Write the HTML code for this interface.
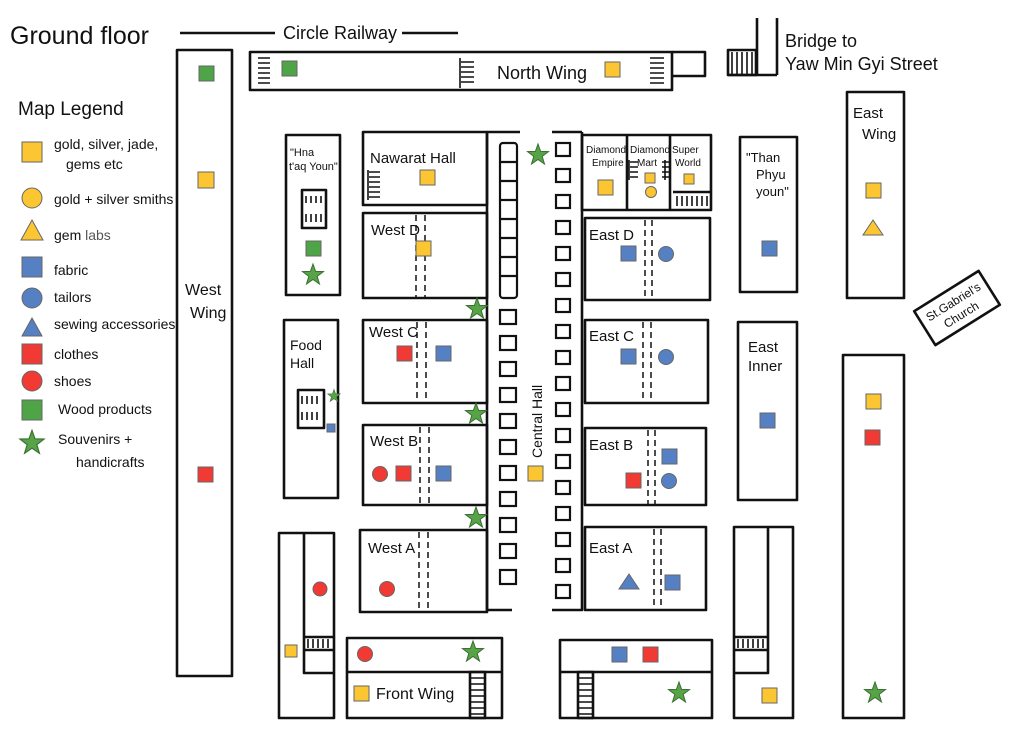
<!DOCTYPE html>
<html><head><meta charset="utf-8"><style>
html,body{margin:0;padding:0;background:#fff;}
svg{display:block;}
text{font-family:"Liberation Sans",sans-serif;fill:#111;}
</style></head><body>
<svg width="1024" height="739" viewBox="0 0 1024 739" xmlns="http://www.w3.org/2000/svg">
<defs>
<polygon id="st" points="0,-11 2.6,-3.6 10.5,-3.4 4.2,1.4 6.5,9 0,4.5 -6.5,9 -4.2,1.4 -10.5,-3.4 -2.6,-3.6" fill="#56a447" stroke="#3a6e30" stroke-width="1"/>
</defs>
<g fill="none" stroke="#111" stroke-width="2.6" stroke-linejoin="round">
<line x1="180" y1="33" x2="275" y2="33"/><line x1="402" y1="33" x2="458" y2="33"/>
<rect x="177" y="50" width="55" height="626"/>
<rect x="250" y="52" width="422" height="38"/>
<path d="M672 52 H705 V76 H672"/>
<path d="M757 18 V75 M777 18 V75 M728 75 H777"/>
<rect x="728" y="50" width="28" height="25"/>
<rect x="847" y="92" width="57" height="206"/>
<rect x="-38" y="-20" width="76" height="40" transform="translate(957,308) rotate(-32)"/>
<rect x="843" y="355" width="61" height="363"/>
<rect x="286" y="135" width="54" height="160"/>
<rect x="302" y="190" width="24" height="38"/>
<rect x="284" y="320" width="54" height="178"/>
<rect x="298" y="390" width="26" height="38"/>
<rect x="279" y="533" width="55" height="185"/>
<path d="M304 533 V673 H334 M304 637 H334 M304 650 H334"/>
<rect x="363" y="132" width="124" height="73"/>
<path d="M487 132 H520 M552 132 H582"/>
<rect x="363" y="213" width="124" height="85"/>
<rect x="363" y="320" width="124" height="83"/>
<rect x="363" y="425" width="124" height="80"/>
<rect x="360" y="530" width="127" height="82"/>
<path d="M487 132 V610 H512"/>
<path d="M582 132 V610 H552"/>
<rect x="582" y="135" width="129" height="75"/>
<path d="M627 135 V210 M670 135 V210 M673 192 H711"/>
<rect x="585" y="218" width="125" height="82"/>
<rect x="585" y="320" width="123" height="83"/>
<rect x="585" y="428" width="121" height="77"/>
<rect x="585" y="527" width="121" height="83"/>
<rect x="740" y="137" width="57" height="155"/>
<rect x="738" y="322" width="59" height="178"/>
<rect x="734" y="527" width="59" height="191"/>
<path d="M768 527 V673 H734 M734 637 H768 M734 650 H768"/>
<rect x="347" y="638" width="155" height="80"/>
<path d="M347 672 H502"/>
<rect x="470" y="672" width="15" height="46"/>
<rect x="560" y="640" width="152" height="78"/>
<path d="M560 672 H712"/>
<rect x="578" y="672" width="15" height="46"/>
</g>
<g fill="none" stroke="#111" stroke-width="2.2">
<rect x="500" y="143" width="17" height="155" rx="3"/>
<path d="M500 162H517M500 181H517M500 200H517M500 219H517M500 238H517M500 257H517M500 276H517"/>
<rect x="500" y="310" width="16" height="14"/><rect x="500" y="336" width="16" height="14"/><rect x="500" y="362" width="16" height="14"/><rect x="500" y="388" width="16" height="14"/><rect x="500" y="414" width="16" height="14"/><rect x="500" y="440" width="16" height="14"/><rect x="500" y="466" width="16" height="14"/><rect x="500" y="492" width="16" height="14"/><rect x="500" y="518" width="16" height="14"/><rect x="500" y="544" width="16" height="14"/><rect x="500" y="570" width="16" height="14"/>
<rect x="556" y="143" width="14" height="13"/><rect x="556" y="169" width="14" height="13"/><rect x="556" y="195" width="14" height="13"/><rect x="556" y="221" width="14" height="13"/><rect x="556" y="247" width="14" height="13"/><rect x="556" y="273" width="14" height="13"/><rect x="556" y="299" width="14" height="13"/><rect x="556" y="325" width="14" height="13"/><rect x="556" y="351" width="14" height="13"/><rect x="556" y="377" width="14" height="13"/><rect x="556" y="403" width="14" height="13"/><rect x="556" y="429" width="14" height="13"/><rect x="556" y="455" width="14" height="13"/><rect x="556" y="481" width="14" height="13"/><rect x="556" y="507" width="14" height="13"/><rect x="556" y="533" width="14" height="13"/><rect x="556" y="559" width="14" height="13"/><rect x="556" y="585" width="14" height="13"/>
</g>
<g stroke="#111" stroke-width="1.6">
<path d="M258 58H270M258 63H270M258 68H270M258 73H270M258 78H270M258 83H270"/>
<path d="M460 58V88M461 62H474M461 67H474M461 72H474M461 77H474M461 82H474"/>
<path d="M650 58H664M650 63H664M650 68H664M650 73H664M650 78H664M650 83H664"/>
<path d="M732 52V74M737 52V74M742 52V74M747 52V74M752 52V74"/>
<path d="M368 170V200M369 172H380M369 177H380M369 182H380M369 187H380M369 192H380M369 197H380"/>
<path d="M306 196V203M311 196V203M316 196V203M321 196V203M306 214V222M311 214V222M316 214V222M321 214V222"/>
<path d="M302 396V404M307 396V404M312 396V404M317 396V404M302 412V420M307 412V420M312 412V420M317 412V420"/>
<path d="M308 639V648M313 639V648M318 639V648M323 639V648M328 639V648"/>
<path d="M738 639V648M743 639V648M748 639V648M753 639V648M758 639V648M763 639V648"/>
<path d="M471 678H484M471 684H484M471 690H484M471 696H484M471 702H484M471 708H484M471 714H484"/>
<path d="M579 678H592M579 684H592M579 690H592M579 696H592M579 702H592M579 708H592M579 714H592"/>
<path d="M677 196V206M682 196V206M687 196V206M692 196V206M697 196V206M702 196V206M707 196V206"/>
<path d="M629 160V180M630 162H638M630 167H638M630 172H638M630 177H638"/>
<path d="M665 160V180M662 162H669M662 167H669M662 172H669M662 177H669"/>
</g>
<g stroke="#111" stroke-width="1.5" stroke-dasharray="6,4">
<path d="M416 215V297M425 215V297M417 322V402M426 322V402M420 427V504M429 427V504M419 532V611M428 532V611"/>
<path d="M645 220V299M652 220V299M643 322V402M651 322V402M648 430V504M655 430V504M654 529V609M661 529V609"/>
</g>
<g stroke="#666" stroke-width="1">
<g fill="#fcc632">
<rect x="22" y="142" width="20" height="20"/>
<rect x="198" y="172" width="16" height="16"/>
<rect x="605" y="62" width="15" height="15"/>
<rect x="420" y="170" width="15" height="15"/>
<rect x="416" y="241" width="15" height="15"/>
<rect x="598" y="180" width="15" height="15"/>
<rect x="645" y="173" width="10" height="10"/>
<rect x="684" y="174" width="10" height="10"/>
<rect x="866" y="183" width="15" height="15"/>
<rect x="866" y="394" width="15" height="15"/>
<rect x="528" y="466" width="15" height="15"/>
<rect x="285" y="645" width="12" height="12"/>
<rect x="354" y="686" width="15" height="15"/>
<rect x="762" y="688" width="15" height="15"/>
<circle cx="32" cy="198" r="10"/>
<circle cx="651" cy="192" r="5.5"/>
<polygon points="32,220 43,240 21,240"/>
<polygon points="873,220 883,235 863,235"/>
</g>
<g fill="#5680c4">
<rect x="22" y="257" width="20" height="20"/>
<rect x="621" y="246" width="15" height="15"/>
<rect x="762" y="241" width="15" height="15"/>
<rect x="436" y="346" width="15" height="15"/>
<rect x="621" y="349" width="15" height="15"/>
<rect x="760" y="413" width="15" height="15"/>
<rect x="436" y="466" width="15" height="15"/>
<rect x="662" y="449" width="15" height="15"/>
<rect x="665" y="575" width="15" height="15"/>
<rect x="612" y="647" width="15" height="15"/>
<rect x="327" y="424" width="8" height="8"/>
<circle cx="32" cy="298" r="10"/>
<circle cx="666" cy="254" r="7.5"/>
<circle cx="666" cy="357" r="7.5"/>
<circle cx="669" cy="481" r="7.5"/>
<polygon points="32,318 42,336 22,336"/>
<polygon points="629,574 639,589 619,589"/>
</g>
<g fill="#f03a33">
<rect x="22" y="344" width="20" height="20"/>
<rect x="198" y="467" width="15" height="15"/>
<rect x="397" y="346" width="15" height="15"/>
<rect x="396" y="466" width="15" height="15"/>
<rect x="626" y="473" width="15" height="15"/>
<rect x="865" y="430" width="15" height="15"/>
<rect x="643" y="647" width="15" height="15"/>
<circle cx="32" cy="381" r="10"/>
<circle cx="380" cy="474" r="7.5"/>
<circle cx="387" cy="589" r="7.5"/>
<circle cx="320" cy="589" r="7"/>
<circle cx="365" cy="654" r="7.5"/>
</g>
<g fill="#4ea447">
<rect x="22" y="400" width="20" height="20"/>
<rect x="199" y="66" width="15" height="15"/>
<rect x="282" y="61" width="15" height="15"/>
<rect x="306" y="241" width="15" height="15"/>
</g>
</g>
<use href="#st" transform="translate(32,443) scale(1.15)"/>
<use href="#st" transform="translate(313,275)"/>
<use href="#st" transform="translate(538,155)"/>
<use href="#st" transform="translate(477,309)"/>
<use href="#st" transform="translate(476,414)"/>
<use href="#st" transform="translate(476,518)"/>
<use href="#st" transform="translate(334,396) scale(0.6)"/>
<use href="#st" transform="translate(473,652)"/>
<use href="#st" transform="translate(679,693)"/>
<use href="#st" transform="translate(875,693)"/>
<text x="10" y="44" font-size="25">Ground floor</text>
<text x="283" y="39" font-size="18">Circle Railway</text>
<text x="497" y="79" font-size="18">North Wing</text>
<text x="785" y="47" font-size="18">Bridge to</text>
<text x="785" y="70" font-size="18">Yaw Min Gyi Street</text>
<text x="18" y="115" font-size="19">Map Legend</text>
<g font-size="14">
<text x="54" y="149">gold, silver, jade,</text>
<text x="66" y="169">gems etc</text>
<text x="54" y="204">gold + silver smiths</text>
<text x="54" y="240">gem <tspan fill="#555">labs</tspan></text>
<text x="54" y="275" fill="#444">fabric</text>
<text x="54" y="302">tailors</text>
<text x="54" y="329">sewing accessories</text>
<text x="54" y="359">clothes</text>
<text x="54" y="386">shoes</text>
<text x="58" y="414">Wood products</text>
<text x="58" y="444">Souvenirs +</text>
<text x="76" y="467" fill="#555">handicrafts</text>
</g>
<text x="185" y="295" font-size="16">West</text>
<text x="190" y="318" font-size="16">Wing</text>
<text x="290" y="156" font-size="11">"Hna</text>
<text x="289" y="170" font-size="11">t'aq Youn"</text>
<text x="370" y="163" font-size="15">Nawarat Hall</text>
<text x="371" y="235" font-size="15">West D</text>
<text x="369" y="337" font-size="15">West C</text>
<text x="370" y="446" font-size="15">West B</text>
<text x="368" y="553" font-size="15">West A</text>
<text x="290" y="350" font-size="14">Food</text>
<text x="290" y="368" font-size="14">Hall</text>
<text font-size="14" transform="translate(542,458) rotate(-90)">Central Hall</text>
<text x="586" y="153" font-size="10">Diamond</text>
<text x="592" y="166" font-size="10">Empire</text>
<text x="630" y="153" font-size="10">Diamond</text>
<text x="637" y="166" font-size="10">Mart</text>
<text x="672" y="153" font-size="10">Super</text>
<text x="675" y="166" font-size="10">World</text>
<text x="589" y="240" font-size="15">East D</text>
<text x="589" y="341" font-size="15">East C</text>
<text x="589" y="450" font-size="15">East B</text>
<text x="589" y="553" font-size="15">East A</text>
<text x="746" y="162" font-size="13">"Than</text>
<text x="756" y="179" font-size="13">Phyu</text>
<text x="756" y="196" font-size="13">youn"</text>
<text x="853" y="118" font-size="15">East</text>
<text x="862" y="139" font-size="15">Wing</text>
<text x="748" y="352" font-size="15">East</text>
<text x="748" y="371" font-size="15">Inner</text>
<g transform="translate(957,308) rotate(-32)"><text x="0" y="-3" font-size="12" text-anchor="middle">St.Gabriel's</text><text x="0" y="12" font-size="12" text-anchor="middle">Church</text></g>
<text x="376" y="699" font-size="16">Front Wing</text>
</svg>
</body></html>
